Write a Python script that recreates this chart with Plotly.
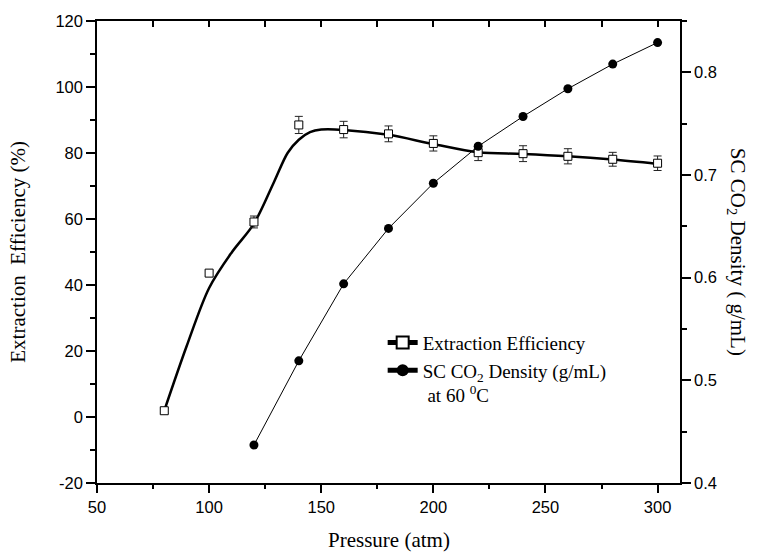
import plotly.graph_objects as go

# ---- data ----
pressure = [80, 100, 120, 140, 160, 180, 200, 220, 240, 260, 280, 300]
efficiency = [1.9, 43.6, 59.1, 88.5, 87.1, 85.8, 82.9, 80.1, 79.8, 79.0, 78.1, 76.9]
efficiency_err = [0.8, 0.8, 1.8, 2.6, 2.5, 2.4, 2.3, 2.4, 2.4, 2.3, 2.1, 2.2]

# smooth fitted curve for extraction efficiency
fit_pressure = [80, 90, 100, 110, 120, 129, 135, 140, 145, 150, 160, 180, 200, 220, 240, 260, 280, 300]
fit_efficiency = [1.9, 21.5, 39.1, 49.8, 58.6, 71.3, 80.0, 84.0, 86.3, 87.1, 87.0, 85.5, 82.7, 80.2, 79.7, 79.0, 78.0, 76.7]

density_pressure = [120, 140, 160, 180, 200, 220, 240, 260, 280, 300]
density = [0.437, 0.519, 0.594, 0.648, 0.692, 0.728, 0.757, 0.784, 0.808, 0.829]

x_ticks = [50, 100, 150, 200, 250, 300]
y_ticks = [-20, 0, 20, 40, 60, 80, 100, 120]
y_ticktext = ["-20", "0", "20", "40", "60", "80", "100", "120"]
y2_ticks = [0.4, 0.5, 0.6, 0.7, 0.8]

SERIF = "Liberation Serif, Times New Roman, serif"
SANS = "Liberation Sans, Arial, sans-serif"

fig = go.Figure()

# fitted curve
fig.add_trace(go.Scatter(
    x=fit_pressure, y=fit_efficiency, mode="lines", line_shape="spline",
    line=dict(color="black", width=2.5, smoothing=0.9), showlegend=False, hoverinfo="skip"))

# measured points with error bars
fig.add_trace(go.Scatter(
    x=pressure, y=efficiency, mode="markers",
    marker=dict(symbol="square", size=8, color="white", line=dict(color="black", width=1)),
    error_y=dict(type="data", array=efficiency_err, visible=True, color="#222", thickness=1, width=4),
    showlegend=False))

# legend entry for efficiency
fig.add_trace(go.Scatter(
    x=[None], y=[None], mode="lines+markers", name="Extraction Efficiency",
    line=dict(color="black", width=2.5),
    marker=dict(symbol="square", size=8, color="white", line=dict(color="black", width=1))))

# density
fig.add_trace(go.Scatter(
    x=density_pressure, y=density, mode="lines+markers", yaxis="y2",
    name="SC CO<sub>2</sub> Density (g/mL)<br> at 60 <sup>0</sup>C",
    line=dict(color="black", width=1),
    marker=dict(symbol="circle", size=9, color="black")))

axis_common = dict(showline=True, linecolor="black", linewidth=1.5, showgrid=False,
                   zeroline=False, tickcolor="black", tickwidth=1.5,
                   tickfont=dict(family=SANS, size=16.5, color="black"))

fig.update_layout(
    width=758, height=557,
    margin=dict(l=97, r=78, t=19, b=74),
    paper_bgcolor="white", plot_bgcolor="white",
    xaxis=dict(range=[50, 310], tickvals=x_ticks, ticks="outside", ticklen=8,
               minor=dict(dtick=25, tick0=50, ticks="outside", ticklen=4, tickcolor="black", tickwidth=1.5),
               **axis_common),
    xaxis2=dict(range=[50, 310], overlaying="x", side="top", showline=True, linecolor="black",
                linewidth=1.5, ticks="inside", ticklen=6, tickcolor="black", tickwidth=1.5,
                tickvals=[50, 75, 100, 125, 150, 175, 200, 225, 250, 275, 300],
                showticklabels=False, showgrid=False, zeroline=False),
    yaxis=dict(range=[-20, 120], tickvals=y_ticks, ticktext=y_ticktext, ticks="outside", ticklen=9,
               minor=dict(dtick=10, tick0=0, ticks="outside", ticklen=5, tickcolor="black", tickwidth=1.5),
               **axis_common),
    yaxis2=dict(range=[0.4, 0.85], overlaying="y", side="right", tickvals=y2_ticks,
                tickformat=".1f", ticks="outside", ticklen=9,
                minor=dict(dtick=0.05, tick0=0.4, ticks="outside", ticklen=5, tickcolor="black", tickwidth=1.5),
                **axis_common),
    legend=dict(x=0.49, y=0.345, xanchor="left", yanchor="top", bgcolor="rgba(0,0,0,0)",
                font=dict(family=SERIF, size=19, color="black"), valign="top",
                tracegroupgap=0, itemsizing="constant"),
    annotations=[
        dict(text="Pressure (atm)", xref="paper", yref="paper", x=0.5, y=-0.123,
             showarrow=False, xanchor="center", yanchor="middle",
             font=dict(family=SERIF, size=21, color="black")),
        dict(text="Extraction\u00a0\u00a0Efficiency (%)", xref="paper", yref="paper",
             x=-0.136, y=0.5, textangle=-90, showarrow=False, xanchor="center", yanchor="middle",
             font=dict(family=SERIF, size=21, color="black")),
        dict(text="SC CO<sub>2</sub> Density ( g/mL)", xref="paper", yref="paper",
             x=1.098, y=0.5, textangle=90, showarrow=False, xanchor="center", yanchor="middle",
             font=dict(family=SERIF, size=21, color="black")),
    ],
)

# dummy trace to activate top axis
fig.add_trace(go.Scatter(x=[None], y=[None], xaxis="x2", showlegend=False, hoverinfo="skip"))

fig.write_html("out.html", config={"displayModeBar": False},
               post_script="document.body.style.margin='0px';document.body.style.overflow='hidden';")
